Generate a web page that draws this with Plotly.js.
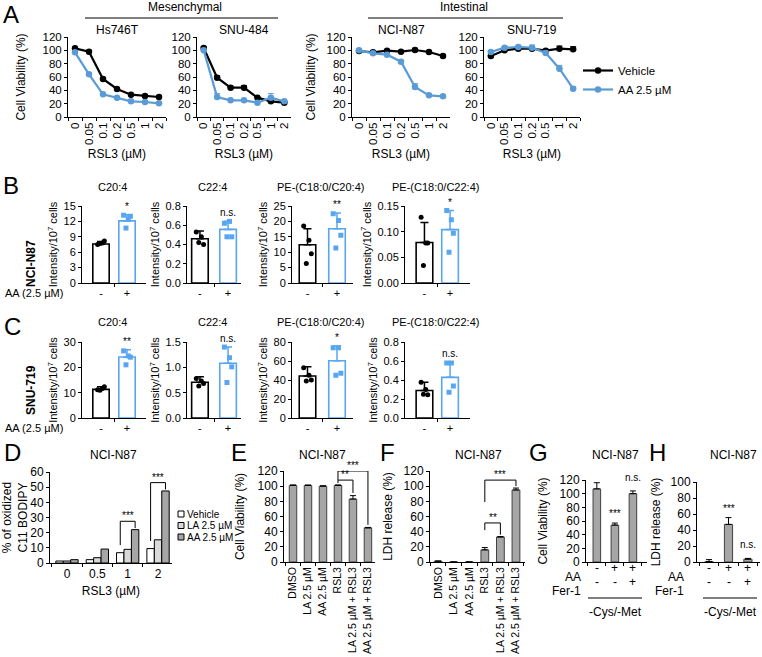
<!DOCTYPE html>
<html><head><meta charset="utf-8">
<script src="https://cdn.plot.ly/plotly-3.0.1.min.js"></script>
<style>html,body{margin:0;padding:0;background:#fff}</style>
</head><body><div id="chart" style="width:762px;height:657px"></div>
<script>
// ---------------- DATA ----------------
// Panel A: RSL3 dose response
const rsl3Doses = ['0','0.05','0.1','0.2','0.5','1','2'];
const hs746tVehicle = [103, 98, 57, 42, 33.5, 31.5, 30];
const hs746tVehicleErr = [1, 2, 2, 1.5, 1, 1, 1];
const hs746tAA = [97, 64, 34, 29, 23.5, 22.5, 20.5];
const hs746tAAErr = [1, 2, 1.5, 1, 1, 1, 1];
const snu484Vehicle = [103.5, 59, 44, 44, 29, 23.5, 21.5];
const snu484VehicleErr = [2, 3, 2, 3, 1, 1, 1];
const snu484AA = [100, 30, 25, 25, 21.5, 29, 23.5];
const snu484AAErr = [1, 5, 1, 1, 1, 6, 1];
const nciVehicle = [99, 97, 99.5, 98, 100.5, 97.5, 91.5];
const nciVehicleErr = [1, 1, 1, 1, 2.5, 1, 1];
const nciAA = [100, 95.5, 93.5, 83, 45, 32.5, 31];
const nciAAErr = [1, 1, 1, 2, 5, 1, 1];
const snu719Vehicle = [91.5, 100, 102.5, 102.5, 99.5, 102.5, 101.5];
const snu719VehicleErr = [1, 2, 2, 2, 2, 4, 4];
const snu719AA = [97.5, 104, 105, 104, 96, 72.5, 42.5];
const snu719AAErr = [2, 1, 2, 4, 3, 5, 3];

// Panels B/C: lipid intensities (mean, SD, replicate points)
const lipidNames = ['C20:4', 'C22:4', 'PE-(C18:0/C20:4)', 'PE-(C18:0/C22:4)'];
const aaLevels = ['-', '+'];
const bVehMean = [7.6, 0.46, 12.4, 0.079];
const bVehErr = [0.5, 0.08, 5.2, 0.039];
const bAAMean = [12.1, 0.557, 17.6, 0.104];
const bAAErr = [1.2, 0.085, 5.1, 0.037];
const bVehPts = [[7.5, 7.8, 8.2, 7.7], [0.53, 0.48, 0.40, 0.42], [18.5, 13.9, 9.5, 6.3], [0.128, 0.078, 0.078, 0.034]];
const bAAPts = [[13.2, 12.4, 13.0, 10.7], [0.62, 0.64, 0.48, 0.48], [22.5, 20.3, 15.5, 11.4], [0.141, 0.123, 0.097, 0.060]];
const bSig = ['*', 'n.s.', '**', '*'];
const cVehMean = [11.3, 0.705, 44.2, 0.289];
const cVehErr = [1.0, 0.11, 9.8, 0.087];
const cAAMean = [24.1, 1.08, 60.2, 0.428];
const cAAErr = [2.8, 0.32, 15.6, 0.16];
const cVehPts = [[11.2, 11.6, 12.3, 11.0], [0.78, 0.73, 0.68, 0.63], [53, 45, 40, 39], [0.376, 0.30, 0.245, 0.25]];
const cAAPts = [[26.5, 24.5, 24.0, 21.0], [1.40, 1.19, 1.01, 0.70], [74, 74, 47, 45], [0.58, 0.58, 0.337, 0.27]];
const cSig = ['**', 'n.s.', '*', 'n.s.'];

// Panel D: oxidized C11 BODIPY
const dDoses = ['0', '0.5', '1', '2'];
const dVehicle = [1.3, 2.2, 6.8, 9.5];
const dLA = [1.3, 3.5, 9.0, 15.3];
const dAA = [2.2, 9.2, 22, 47.5];
const dSeriesNames = ['Vehicle', 'LA 2.5 µM', 'AA 2.5 µM'];

// Panels E/F
const efGroups = ['DMSO', 'LA 2.5 µM', 'AA 2.5 µM', 'RSL3', 'LA 2.5 µM + RSL3', 'AA 2.5 µM + RSL3'];
const eViability = [101, 101, 100, 101, 83, 45];
const eViabilityErr = [0.6, 0.5, 0.5, 0.6, 4.5, 0.6];
const fLDH = [1, 0, 0, 16, 33, 95];
const fLDHErr = [0.4, 0, 0, 3, 0.5, 2.5];

// Panels G/H
const ghAA = ['-', '+', '+'];
const ghFer = ['-', '-', '+'];
const gViability = [107, 54, 100];
const gViabilityErr = [9, 3, 4];
const hLDH = [0.5, 47, 3.5];
const hLDHErr = [2.5, 8.5, 1];
const gSig = ['', '***', 'n.s.'];
const hSig = ['', '***', 'n.s.'];

// ---------------- LAYOUT HELPERS ----------------
const W = 762, H = 657;
const FONT = 'Arial, "Liberation Sans", sans-serif';
const px = x => x / W;
const py = y => 1 - y / H;
const BLUE_A = '#5b9bd5';
const BLUE_B = '#58a6f2';
const GRAY = '#a6a6a6';

const layout = {
  width: W, height: H, margin: {l: 0, r: 0, t: 0, b: 0},
  paper_bgcolor: '#fff', plot_bgcolor: 'rgba(0,0,0,0)',
  font: {family: FONT, size: 11, color: '#000'},
  barmode: 'overlay', hovermode: false, showlegend: true,
  legend: {x: px(578), y: py(56), xanchor: 'left', yanchor: 'top', bgcolor: 'rgba(0,0,0,0)',
           font: {size: 11.5}, itemwidth: 30, tracegroupgap: 0},
  annotations: [], shapes: []
};
const baseAx = {showline: true, linecolor: '#000', linewidth: 1, ticks: 'outside', ticklen: 3,
  tickwidth: 1, tickcolor: '#000', showgrid: false, zeroline: false, automargin: false,
  fixedrange: true, tickfont: {family: FONT, size: 11, color: '#000'}};
const traces = [];
function sfx(n) { return n === 1 ? '' : String(n); }
function addAxes(n, xd, yd, xopt, yopt) {
  const s = sfx(n);
  layout['xaxis' + s] = Object.assign({}, baseAx, {domain: [px(xd[0]), px(xd[1])], anchor: 'y' + s}, xopt);
  layout['yaxis' + s] = Object.assign({}, baseAx, {domain: [py(yd[1]), py(yd[0])], anchor: 'x' + s}, yopt);
}
function ann(x, y, text, opt) {
  layout.annotations.push(Object.assign({xref: 'paper', yref: 'paper', x: px(x), y: py(y), text: text,
    showarrow: false, font: {size: 12}, xanchor: 'center', yanchor: 'middle'}, opt || {}));
}
function line(x0, y0, x1, y1, w) {
  layout.shapes.push({type: 'line', xref: 'paper', yref: 'paper', x0: px(x0), y0: py(y0), x1: px(x1), y1: py(y1),
    line: {color: '#000', width: w || 1}});
}
function bracket(n, xa, xb, top, ya, yb, label) {
  const s = sfx(n);
  const seg = (x0, y0, x1, y1) => layout.shapes.push({type: 'line', xref: 'x' + s, yref: 'y' + s,
    x0: x0, y0: y0, x1: x1, y1: y1, line: {color: '#000', width: 1}});
  seg(xa, ya, xa, top); seg(xa, top, xb, top); seg(xb, top, xb, yb);
  layout.annotations.push({xref: 'x' + s, yref: 'y' + s, x: (xa + xb) / 2, y: top, text: label,
    showarrow: false, yanchor: 'bottom', yshift: -2, font: {size: 10}});
}
const zeros = a => a.map(() => 0);

// ---------------- PANEL A ----------------
const aPanels = [
  {name: 'Hs746T', veh: hs746tVehicle, vehErr: hs746tVehicleErr, aa: hs746tAA, aaErr: hs746tAAErr, xd: [68, 166], ytitle: 14},
  {name: 'SNU-484', veh: snu484Vehicle, vehErr: snu484VehicleErr, aa: snu484AA, aaErr: snu484AAErr, xd: [197, 291], ytitle: 0},
  {name: 'NCI-N87', veh: nciVehicle, vehErr: nciVehicleErr, aa: nciAA, aaErr: nciAAErr, xd: [352, 450], ytitle: 8},
  {name: 'SNU-719', veh: snu719Vehicle, vehErr: snu719VehicleErr, aa: snu719AA, aaErr: snu719AAErr, xd: [484, 580], ytitle: 0}
];
aPanels.forEach((p, i) => {
  const n = i + 1, s = sfx(n);
  const yopt = {range: [0, 120], dtick: 20, tickfont: {family: FONT, size: 11.5, color: '#000'}};
  if (p.ytitle) yopt.title = {text: 'Cell Viability (%)', font: {size: 12}, standoff: p.ytitle};
  addAxes(n, p.xd, [37, 117],
    {type: 'category', range: [-0.5, 6.5], tickson: 'boundaries', tickangle: -90,
     tickmode: 'array', tickvals: rsl3Doses, ticktext: rsl3Doses,
     tickfont: {family: FONT, size: 11.5, color: '#000'},
     title: {text: 'RSL3 (µM)', font: {size: 12}, standoff: 5}}, yopt);
  [[p.veh, p.vehErr, '#000', 'Vehicle'], [p.aa, p.aaErr, BLUE_A, 'AA 2.5 µM']].forEach(([y, e, c, nm]) => {
    traces.push({type: 'scatter', mode: 'lines+markers', x: rsl3Doses, y: y, name: nm,
      xaxis: 'x' + s, yaxis: 'y' + s, showlegend: i === 0, legend: 'legend',
      line: {color: c, width: 2.2}, marker: {color: c, size: 6.5},
      error_y: {type: 'data', symmetric: false, array: e, arrayminus: zeros(e), color: c, thickness: 1, width: 3}});
  });
  ann((p.xd[0] + p.xd[1]) / 2, 30, p.name, {font: {size: 12}});
});
ann(185, 7, 'Mesenchymal', {font: {size: 12}});
line(85, 18, 278, 18, 1.2);
ann(464, 7, 'Intestinal', {font: {size: 12}});
line(368, 18, 563, 18, 1.2);

// ---------------- PANELS B & C ----------------
const bcX = [[82, 146], [187, 241], [292, 352.5], [405, 469.5]];
const bcRange = [[-0.73, 1.73], [-0.46, 1.46], [-0.525, 1.525], [-0.76, 1.76]];
const bcBarW = [0.63, 0.59, 0.56, 0.65];
const jitter = [-0.13, 0.05, 0.13, -0.04];
const bYopts = [{range: [0, 15], dtick: 3}, {range: [0, 0.8], dtick: 0.2, tickformat: '.1f'},
                {range: [0, 25], dtick: 5}, {range: [0, 0.15], dtick: 0.05, tickformat: '.2f'}];
const cYopts = [{range: [0, 30], dtick: 10}, {range: [0, 1.5], dtick: 0.5, tickformat: '.1f'},
                {range: [0, 80], dtick: 20}, {range: [0, 0.8], dtick: 0.2, tickformat: '.1f'}];
function lipidRow(startN, yd, yopts, vm, ve, am, ae, vp, ap, sig, titleY) {
  for (let j = 0; j < 4; j++) {
    const n = startN + j, s = sfx(n);
    addAxes(n, bcX[j], yd,
      {range: bcRange[j], tickmode: 'array', tickvals: [0, 1], ticktext: aaLevels, ticks: '',
       tickfont: {family: FONT, size: 11, color: '#000'},
       minor: {tickmode: 'array', tickvals: [0.5], ticks: 'outside', ticklen: 3, tickcolor: '#000', showgrid: false}},
      Object.assign({tickfont: {family: FONT, size: 11, color: '#000'},
        title: {text: 'Intensity/10<sup>7</sup> cells', font: {size: 11}, standoff: 3}}, yopts[j]));
    [[0, vm[j], ve[j], vp[j], '#000', 'circle'], [1, am[j], ae[j], ap[j], BLUE_B, 'square']].forEach(([xi, m, e, pts, c, sym]) => {
      traces.push({type: 'bar', x: [xi], y: [m], width: [bcBarW[j]], xaxis: 'x' + s, yaxis: 'y' + s, showlegend: false,
        marker: {color: '#fff', line: {color: c, width: 1.6}},
        error_y: {type: 'data', symmetric: false, array: [e], arrayminus: [0], color: c, thickness: 1.5, width: 4}});
      traces.push({type: 'scatter', mode: 'markers', x: pts.map((v, k) => xi + jitter[k]), y: pts,
        xaxis: 'x' + s, yaxis: 'y' + s, showlegend: false, marker: {color: c, size: 5, symbol: sym}});
    });
    layout.annotations.push({xref: 'x' + s, yref: 'y' + s, x: 1, y: am[j] + ae[j], text: sig[j], showarrow: false,
      yanchor: 'bottom', yshift: 1, font: {size: 10}});
    ann((bcX[j][0] + bcX[j][1]) / 2 - 2, titleY, lipidNames[j], {font: {size: 11}});
  }
}
lipidRow(5, [206, 283], bYopts, bVehMean, bVehErr, bAAMean, bAAErr, bVehPts, bAAPts, bSig, 187);
lipidRow(9, [342, 418], cYopts, cVehMean, cVehErr, cAAMean, cAAErr, cVehPts, cAAPts, cSig, 322);
ann(31, 264, '<b>NCI-N87</b>', {textangle: -90, font: {size: 12}});
ann(31, 390, '<b>SNU-719</b>', {textangle: -90, font: {size: 12}});
ann(3, 293, 'AA (2.5 µM)', {xanchor: 'left', font: {size: 11}});
ann(3, 428, 'AA (2.5 µM)', {xanchor: 'left', font: {size: 11}});

// ---------------- PANEL D ----------------
addAxes(13, [50, 172], [472, 563],
  {type: 'category', range: [-0.56, 3.46], tickson: 'boundaries', tickfont: {family: FONT, size: 12, color: '#000'},
   title: {text: 'RSL3 (µM)', font: {size: 12}, standoff: 6}},
  {range: [0, 60], dtick: 10, tickfont: {family: FONT, size: 12, color: '#000'},
   title: {text: '% of oxidized<br>C11 BODIPY', font: {size: 12}, standoff: 2}});
const dColors = ['#ffffff', '#d9d9d9', GRAY];
const dBarW = 0.245;
[dVehicle, dLA, dAA].forEach((vals, k) => {
  traces.push({type: 'bar', x: dDoses, y: vals, name: dSeriesNames[k], xaxis: 'x13', yaxis: 'y13', showlegend: false,
    width: dBarW, offset: -1.5 * dBarW + k * dBarW, marker: {color: dColors[k], line: {color: '#000', width: 1}}});
});
// brackets (vehicle vs AA at dose 1 and 2)
[2, 3].forEach(g => {
  bracket(13, g - dBarW, g + dBarW, dAA[g] + 5.5, dVehicle[g] + 5, dAA[g] + 1, '***');
});
// legend D
dSeriesNames.forEach((nm, k) => {
  const yy = 514 + k * 11.5;
  layout.shapes.push({type: 'rect', xref: 'paper', yref: 'paper', x0: px(178), x1: px(184), y0: py(yy + 3), y1: py(yy - 3),
    fillcolor: dColors[k], line: {color: '#000', width: 1}});
  ann(185, yy, nm, {xanchor: 'left', font: {size: 10}});
});

// ---------------- PANELS E & F ----------------
const efX = {type: 'category', tickson: 'boundaries', tickangle: -90, tickfont: {family: FONT, size: 10.5, color: '#000'}};
addAxes(14, [284, 375], [471, 562], Object.assign({range: [-0.6, 5.47]}, efX),
  {range: [0, 120], dtick: 20, tickfont: {family: FONT, size: 12, color: '#000'},
   title: {text: 'Cell Viability (%)', font: {size: 12}, standoff: 10}});
addAxes(15, [430, 525], [471, 562], Object.assign({range: [-0.52, 5.58]}, efX),
  {range: [0, 120], dtick: 20, tickfont: {family: FONT, size: 12, color: '#000'},
   title: {text: 'LDH release (%)', font: {size: 12}, standoff: 8}});
[[14, eViability, eViabilityErr], [15, fLDH, fLDHErr]].forEach(([n, v, e]) => {
  traces.push({type: 'bar', x: efGroups, y: v, width: 0.5, xaxis: 'x' + n, yaxis: 'y' + n, showlegend: false,
    marker: {color: GRAY, line: {color: '#404040', width: 1}},
    error_y: {type: 'data', symmetric: false, array: e, arrayminus: zeros(e), color: '#000', thickness: 1, width: 3}});
});
bracket(14, 3, 4, 108, 104, 91, '**');
bracket(14, 3, 5, 120, 108, 49, '***');
bracket(15, 3, 4, 51.5, 42, 36, '**');
bracket(15, 3, 5, 108, 79, 100, '***');
ann(322, 455, 'NCI-N87', {font: {size: 12}});
ann(478, 455, 'NCI-N87', {font: {size: 12}});

// ---------------- PANELS G & H ----------------
const ghConds = ghAA.map((a, i) => 'AA' + a + ' Fer' + ghFer[i]);
addAxes(16, [586, 647], [480, 562], {type: 'category', range: [-0.6, 2.78], tickson: 'boundaries', showticklabels: false},
  {range: [0, 120], dtick: 20, tickfont: {family: FONT, size: 12, color: '#000'},
   title: {text: 'Cell Viability (%)', font: {size: 12}, standoff: 9}});
addAxes(17, [697, 760], [482, 562], {type: 'category', range: [-0.62, 2.62], tickson: 'boundaries', showticklabels: false},
  {range: [0, 100], dtick: 20, tickfont: {family: FONT, size: 12, color: '#000'},
   title: {text: 'LDH release (%)', font: {size: 12}, standoff: 7}});
[[16, gViability, gViabilityErr, gSig, 583, 615], [17, hLDH, hLDHErr, hSig, 686, 730]].forEach(([n, v, e, sig, labX, midX]) => {
  traces.push({type: 'bar', x: ghConds, y: v, width: 0.42, xaxis: 'x' + n, yaxis: 'y' + n, showlegend: false,
    marker: {color: GRAY, line: {color: '#404040', width: 1}},
    error_y: {type: 'data', symmetric: false, array: e, arrayminus: zeros(e), color: '#000', thickness: 1, width: 3}});
  v.forEach((val, i) => {
    if (sig[i]) layout.annotations.push({xref: 'x' + n, yref: 'y' + n, x: i, y: val + e[i], text: sig[i], showarrow: false,
      yanchor: 'bottom', yshift: sig[i] === 'n.s.' ? 6 : 2, font: {size: 10}});
    layout.annotations.push({xref: 'x' + n, yref: 'paper', x: i, y: py(577), text: ghAA[i], showarrow: false, font: {size: 12}});
    layout.annotations.push({xref: 'x' + n, yref: 'paper', x: i, y: py(591), text: ghFer[i], showarrow: false, font: {size: 12}});
  });
  ann(labX, 577, 'AA', {xanchor: 'right'});
  ann(labX, 591, 'Fer-1', {xanchor: 'right'});
  line(midX - 27, 598, midX + 27, 598, 1);
  ann(midX, 612, '-Cys/-Met');
});
ann(615, 455, 'NCI-N87', {font: {size: 12}});
ann(733, 455, 'NCI-N87', {font: {size: 12}});
ann(113, 455, 'NCI-N87', {font: {size: 12}});

// ---------------- PANEL LETTERS ----------------
[['A', 11, 15], ['B', 11, 185], ['C', 12, 327], ['D', 12, 452], ['E', 239, 452], ['F', 387, 452], ['G', 538, 452], ['H', 657, 452]]
  .forEach(([t, x, y]) => ann(x, y, t, {font: {size: 24}}));

Plotly.newPlot('chart', traces, layout, {staticPlot: true, displayModeBar: false});
</script>
</body></html>
